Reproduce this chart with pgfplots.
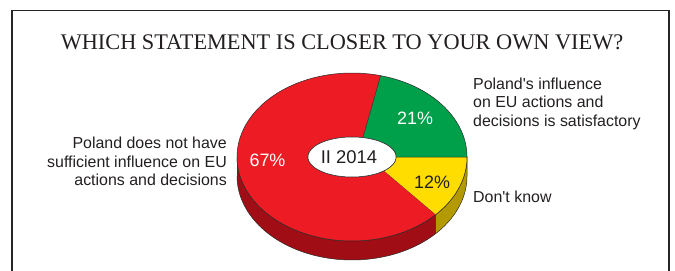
\documentclass[border=0pt]{standalone}
\usepackage{pgfplots}
\pgfplotsset{compat=1.18}
\usepackage{pgfplotstable}
\usepackage{fontspec}
\setmainfont{Liberation Sans}
\newfontfamily\titlefont{Liberation Serif}

\definecolor{cred}{HTML}{ED1C24}
\definecolor{cdred}{HTML}{A10D14}
\definecolor{cgreen}{HTML}{00A04B}
\definecolor{cyellow}{HTML}{FFDD00}
\definecolor{cdyellow}{HTML}{B39A00}
\definecolor{outl}{HTML}{2A2A2A}
\definecolor{txt}{HTML}{231F20}

\pgfplotstableread{
label value
satisfactory 21
dontknow 12
notsufficient 67
}\piedata

\pgfplotstablegetelem{0}{value}\of\piedata\let\vG\pgfplotsretval
\pgfplotstablegetelem{1}{value}\of\piedata\let\vY\pgfplotsretval
\pgfplotstablegetelem{2}{value}\of\piedata\let\vR\pgfplotsretval
\pgfmathsetmacro\aG{3.6*\vG}
\pgfmathsetmacro\aY{-3.6*\vY}
\pgfmathsetmacro\aR{\aG+3.6*\vR}
\def\cx{352}\def\cy{157}\def\rx{115}\def\ry{84}\def\hx{44}\def\hy{20}\def\dep{19}

% angle along a closed path: t in [0,1) runs a->b on the first curve, t in [1,2] runs b->a on the second
\newcommand\PieTh[2]{(ifthenelse(\t<1,(#1)+((#2)-(#1))*min(\t/0.95,1),(#2)-((#2)-(#1))*max((\t-1.05)/0.95,0)))}

\begin{document}
\begin{tikzpicture}
\begin{axis}[width=675bp,height=271bp,scale only axis,
  xmin=0,xmax=675,ymin=0,ymax=271,y dir=reverse,hide axis]
\addplot[draw=none] coordinates {(0,0) (675,271)};
% frame
\addplot[draw=black!85,line width=1.2bp] coordinates {(12,271) (12,10.7) (669,10.7) (669,271)};
% side walls
\addplot[fill=cdred,draw=outl,line width=0.5bp,domain=0:2,samples=201,variable=\t]
  ({\cx+\rx*cos(\PieTh{180}{\aR})},{\cy-\ry*sin(\PieTh{180}{\aR})+ifthenelse(\t<1,0,\dep)});
\addplot[fill=cdyellow,draw=outl,line width=0.5bp,domain=0:2,samples=201,variable=\t]
  ({\cx+\rx*cos(\PieTh{\aR}{360})},{\cy-\ry*sin(\PieTh{\aR}{360})+ifthenelse(\t<1,0,\dep)});
% top faces
\addplot[fill=cred,draw=outl,line width=0.5bp,domain=0:2,samples=241,variable=\t]
  ({\cx+ifthenelse(\t<1,\rx,\hx)*cos(\PieTh{\aG}{\aR})},{\cy-ifthenelse(\t<1,\ry,\hy)*sin(\PieTh{\aG}{\aR})});
\addplot[fill=cgreen,draw=outl,line width=0.5bp,domain=0:2,samples=201,variable=\t]
  ({\cx+ifthenelse(\t<1,\rx,\hx)*cos(\PieTh{0}{\aG})},{\cy-ifthenelse(\t<1,\ry,\hy)*sin(\PieTh{0}{\aG})});
\addplot[fill=cyellow,draw=outl,line width=0.5bp,domain=0:2,samples=201,variable=\t]
  ({\cx+ifthenelse(\t<1,\rx,\hx)*cos(\PieTh{\aY}{0})},{\cy-ifthenelse(\t<1,\ry,\hy)*sin(\PieTh{\aY}{0})});
% hole
\addplot[fill=white,draw=outl,line width=0.5bp,domain=0:360,samples=121,variable=\t]
  ({\cx+\hx*cos(\t)},{\cy-\hy*sin(\t)});

\node[font=\titlefont\fontsize{22.4}{24}\selectfont,text=txt,inner sep=0] at (axis cs:342,42) {WHICH STATEMENT IS CLOSER TO YOUR OWN VIEW?};
\node[font=\fontsize{18}{20}\selectfont,text=white,inner sep=0] at (axis cs:267.5,160) {67\%};
\node[font=\fontsize{18}{20}\selectfont,text=white,inner sep=0] at (axis cs:415,118) {21\%};
\node[font=\fontsize{18}{20}\selectfont,text=txt,inner sep=0] at (axis cs:432,182) {12\%};
\node[font=\fontsize{18.5}{20}\selectfont,text=txt,inner sep=0] at (axis cs:349,157) {II 2014};
\node[font=\fontsize{16}{18.5}\selectfont,text=txt,inner sep=0,align=right,anchor=east] at (axis cs:227,161.5) {Poland does not have\\sufficient influence on EU\\actions and decisions};
\node[font=\fontsize{16}{18.5}\selectfont,text=txt,inner sep=0,align=left,anchor=west] at (axis cs:473,103.5) {Poland\textquotesingle s influence\\on EU actions and\\decisions is satisfactory};
\node[font=\fontsize{16}{18.5}\selectfont,text=txt,inner sep=0,anchor=west] at (axis cs:473,197) {Don\textquotesingle t know};
\end{axis}
\end{tikzpicture}
\end{document}
